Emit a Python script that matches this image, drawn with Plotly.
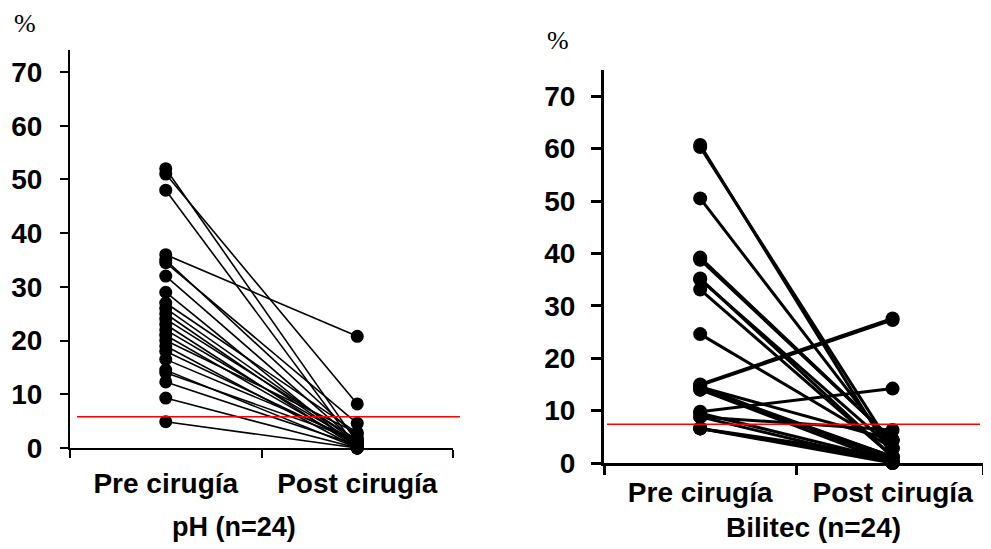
import plotly.graph_objects as go

# ---- data ----
categories = ["Pre cirugía", "Post cirugía"]
ph_pre = [52, 51, 48, 36, 35, 34.5, 32, 29, 27, 26, 25, 24, 23, 22, 21, 20, 19, 18, 16.5, 14.5, 14, 12.3, 9.3, 4.9]
ph_post = [1, 8.2, 0, 20.8, 2, 4.6, 1, 0, 2.8, 1, 0.5, 1.5, 0, 1, 0.5, 2.8, 0, 1, 1.5, 0, 1.5, 0.5, 0, 0]
bil_pre = [60.7, 60.3, 50.5, 39.2, 38.8, 35.2, 33.1, 24.6, 15.0, 14.8, 14.6, 14.3, 14.0, 14.5, 9.8, 9.5, 8.8, 6.6, 6.6, 39.0, 35.0, 14.0, 8.8, 6.6]
bil_post = [1.2, 2.8, 2.8, 4.4, 4.4, 1.2, 1.2, 2.8, 27.6, 27.3, 0.5, 1.2, 0, 4.4, 14.2, 0.5, 6.3, 0.5, 0, 4.4, 2.8, 1.2, 0, 1.2]
ph_threshold = 5.8
bil_threshold = 7.4
yticks = [0, 10, 20, 30, 40, 50, 60, 70]
titles = ["pH (n=24)", "Bilitec (n=24)"]

W, H = 991, 549
OFF = 8  # page body margin offset
FONT = "Liberation Sans, Arial, sans-serif"

def pairs(pre, post):
    xs, ys = [], []
    for a, b in zip(pre, post):
        xs += [0.5, 1.5, None]
        ys += [a, b, None]
    return xs, ys

fig = go.Figure()
x1, y1 = pairs(ph_pre, ph_post)
fig.add_trace(go.Scatter(x=x1, y=y1, mode="lines+markers", xaxis="x", yaxis="y",
                         line=dict(color="black", width=1.6),
                         marker=dict(color="black", size=13), showlegend=False, cliponaxis=False))
x2, y2 = pairs(bil_pre, bil_post)
fig.add_trace(go.Scatter(x=x2, y=y2, mode="lines+markers", xaxis="x2", yaxis="y2",
                         line=dict(color="black", width=3),
                         marker=dict(color="black", size=14), showlegend=False, cliponaxis=False))

def px_x(p):
    return (p - OFF) / W

def px_y(p):
    return 1 - (p - OFF) / H

common_x = dict(showgrid=False, zeroline=False, showline=True, linecolor="black", automargin=False,
                tickvals=[0.5, 1.5], ticktext=categories, ticks="",
                tickfont=dict(family=FONT, size=28, color="black", weight="bold"))
common_y = dict(showgrid=False, zeroline=False, showline=True, linecolor="black", automargin=False,
                tickvals=yticks, ticks="outside", tickcolor="black",
                tickfont=dict(family=FONT, size=28, color="black", weight="bold"))

fig.update_layout(
    width=W, height=H, margin=dict(l=0, r=0, t=0, b=0, autoexpand=False),
    paper_bgcolor="white", plot_bgcolor="white",
    xaxis=dict(domain=[px_x(70), px_x(453)], range=[0, 2], anchor="y", linewidth=2,
               minor=dict(tickvals=[0, 1, 2], ticks="outside", ticklen=8, tickwidth=2, tickcolor="black"),
               ticklabelstandoff=9, **common_x),
    yaxis=dict(domain=[px_y(448), px_y(50)], range=[0, 74.1], anchor="x", linewidth=2,
               ticklen=8, tickwidth=2, ticklabelstandoff=12, **common_y),
    xaxis2=dict(domain=[px_x(604), px_x(983)], range=[0, 1.97], anchor="y2", linewidth=3,
                minor=dict(tickvals=[0, 1, 1.97], ticks="outside", ticklen=9, tickwidth=3, tickcolor="black"),
                ticklabelstandoff=2, **common_x),
    yaxis2=dict(domain=[px_y(463), px_y(70)], range=[0, 75], anchor="x2", linewidth=3,
                ticklen=10, tickwidth=3, ticklabelstandoff=10, **common_y),
)

fig.add_shape(type="line", xref="paper", yref="y", x0=px_x(77), x1=px_x(460),
              y0=ph_threshold, y1=ph_threshold, line=dict(color="red", width=1.5))
fig.add_shape(type="line", xref="paper", yref="y2", x0=px_x(607), x1=px_x(980),
              y0=bil_threshold, y1=bil_threshold, line=dict(color="red", width=1.5))

serif = dict(family="Liberation Serif, Times New Roman, serif", size=26, color="black")
fig.add_annotation(text="%", x=px_x(25), y=px_y(24), xref="paper", yref="paper",
                   xanchor="center", yanchor="middle", showarrow=False, font=serif)
fig.add_annotation(text="%", x=px_x(558), y=px_y(41), xref="paper", yref="paper",
                   xanchor="center", yanchor="middle", showarrow=False, font=serif)
fig.add_annotation(text=titles[0], x=px_x(234), y=px_y(527), xref="paper", yref="paper",
                   xanchor="center", yanchor="middle", showarrow=False,
                   font=dict(family=FONT, size=27, color="black", weight="bold"))
fig.add_annotation(text=titles[1], x=px_x(813), y=px_y(527), xref="paper", yref="paper",
                   xanchor="center", yanchor="middle", showarrow=False,
                   font=dict(family=FONT, size=28, color="black", weight="bold"))

fig.write_html("out.html")
